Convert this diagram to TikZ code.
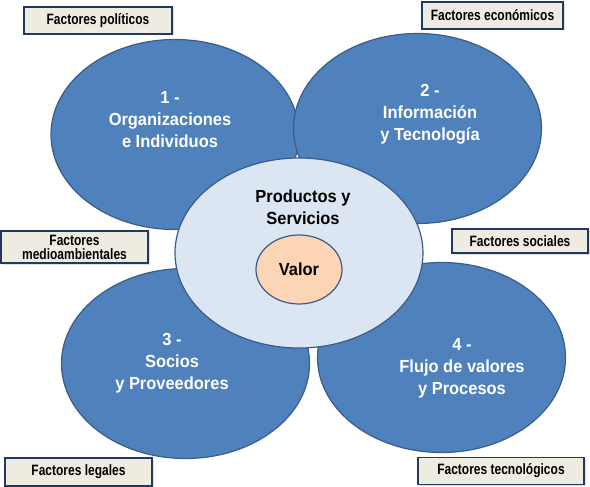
\documentclass[tikz,border=0pt]{standalone}
\usepackage{fontspec}
\setmainfont{Liberation Sans}
\newfontfamily\petalfont[FakeStretch=0.94]{Liberation Sans}
\newfontfamily\factorfont[FakeStretch=0.8]{Liberation Sans}
\usetikzlibrary{shapes.geometric,shadows}
\definecolor{petalBlue}{RGB}{79,129,189}
\definecolor{petalLine}{RGB}{56,93,138}
\definecolor{coreFill}{RGB}{220,230,242}
\definecolor{valueFill}{RGB}{251,213,181}
\definecolor{factorFill}{RGB}{238,236,225}
\definecolor{factorLine}{RGB}{31,56,100}
\tikzset{
  petal/.style={ellipse, draw=petalLine, line width=1.2pt, fill=petalBlue, minimum width=248pt, minimum height=190pt, inner sep=0pt},
  corebox/.style={petal, fill=coreFill},
  valuebox/.style={ellipse, draw=petalLine, line width=1.2pt, fill=valueFill, minimum width=86pt, minimum height=69pt, inner sep=0pt, font=\petalfont\bfseries\fontsize{17.5}{22}\selectfont},
  petaltext/.style={align=center, inner sep=0pt, text=white, font=\petalfont\bfseries\fontsize{17.5}{22}\selectfont},
  coretext/.style={petaltext, text=black},
  factorbox/.style={rectangle, draw=factorLine, line width=1.5pt, fill=factorFill, align=center, inner sep=0pt, drop shadow={shadow xshift=1.5pt, shadow yshift=-1.5pt, fill=black!25}, font=\factorfont\bfseries\fontsize{15}{14}\selectfont}
}

\begin{document}
\begin{tikzpicture}[x=1pt, y=-1pt]
  \useasboundingbox (0,0) rectangle (590,487);
  % four areas
  \node[petal] (orgs) at (175,134.5) {};
  \node[petal] (info) at (417.5,128.5) {};
  \node[petal] (socios) at (185.5,363.5) {};
  \node[petal] (flujo) at (441.5,357.5) {};
  \node[petaltext, xshift=-5pt, yshift=14.5pt] (orgsText) at (orgs) {1 -\\Organizaciones\\e Individuos};
  \node[petaltext, xshift=12.5pt, yshift=14.5pt] (infoText) at (info) {2 -\\Información\\y Tecnología};
  \node[petaltext, xshift=-13.5pt] (sociosText) at (socios) {3 -\\Socios\\y Proveedores};
  \node[petaltext, xshift=20.5pt, yshift=-10.5pt] (flujoText) at (flujo) {4 -\\Flujo de valores\\y Procesos};
  % centre
  \node[corebox] (core) at (299,253) {};
  \node[coretext, xshift=4pt, yshift=45.5pt] (coreText) at (core) {Productos y\\Servicios};
  \node[valuebox] (valor) at (299,269.5) {Valor};
  % external factors
  \node[factorbox, minimum width=148pt, minimum height=27pt] (politicos) at (98,20.5) {Factores políticos};
  \node[factorbox, minimum width=141pt, minimum height=27pt] (economicos) at (492.5,15.5) {Factores económicos};
  \node[factorbox, minimum width=147pt, minimum height=32pt] (medio) at (74.5,247) {Factores\\medioambientales};
  \node[factorbox, minimum width=136pt, minimum height=24pt] (sociales) at (520,241) {Factores sociales};
  \node[factorbox, minimum width=147pt, minimum height=28pt] (legales) at (78.5,472) {Factores legales};
  \node[factorbox, minimum width=166pt, minimum height=27pt] (tecno) at (501,471) {Factores tecnológicos};
\end{tikzpicture}
\end{document}
